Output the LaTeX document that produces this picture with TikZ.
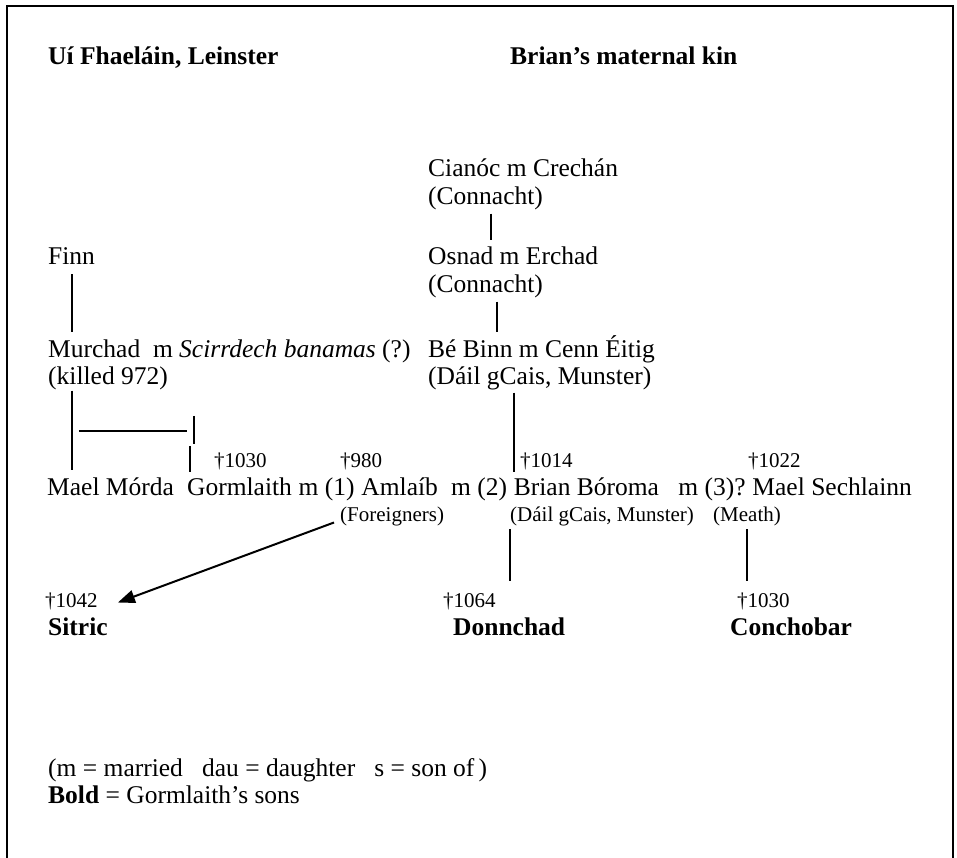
\documentclass[tikz,border=0pt]{standalone}
\usepackage{fontspec}
\setmainfont{Liberation Serif}
\usetikzlibrary{arrows.meta,positioning,calc}

\begin{document}
\begin{tikzpicture}[
  x=1pt,y=-1pt,
  txt/.style={inner sep=0pt,anchor=base west,font=\fontsize{25.5}{27}\selectfont,
              text height=17pt,text depth=6pt},
  hd/.style={txt,font=\fontsize{25.5}{27}\selectfont\bfseries},
  sml/.style={inner sep=0pt,anchor=base west,font=\fontsize{21}{23}\selectfont,
              text height=14pt,text depth=5pt},
  lnk/.style={line width=2pt,shorten <=3pt,shorten >=8pt},
  arr/.style={line width=2pt,-{Triangle[length=17pt,width=13pt]}}
]
\useasboundingbox (0,0) rectangle (957,858);
\draw[line width=1.6pt] (7,858) -- (7,6) -- (953,6) -- (953,858);

% headings
\node[hd] (leinster) at (48,65) {Uí Fhaeláin, Leinster};
\node[hd] (matkin) at (510,65) {Brian’s maternal kin};

% maternal kin
\node[txt] (cianoc) at (428,177) {Cianóc m Crechán};
\node[txt,below=4pt of cianoc.south west,anchor=north west] (cianocreg) {(Connacht)};
\node[txt] (osnad) at (428,265) {Osnad m Erchad};
\node[txt,below=4pt of osnad.south west,anchor=north west] (osnadreg) {(Connacht)};
\node[txt] (bebinn) at (428,357) {Bé Binn m Cenn Éitig};
\node[txt,below=4pt of bebinn.south west,anchor=north west] (bebinnreg) {(Dáil gCais, Munster)};

% Leinster line
\node[txt] (finn) at (48,265) {Finn};
\node[txt] (murchad) at (48,357) {Murchad\ \ m \textit{Scirrdech banamas} (?)};
\node[txt,below=4pt of murchad.south west,anchor=north west] (killed) {(killed 972)};

% main row
\node[txt] (maelmorda) at (47,495) {Mael Mórda};
\node[txt,base right=12.75pt of maelmorda] (gorm) {Gormlaith};
\node[txt,base right=6.4pt of gorm] (m1) {m (1)};
\node[txt,base right=6.4pt of m1] (amlaib) {Amlaíb};
\node[txt,base right=12.75pt of amlaib] (m2) {m (2)};
\node[txt,base right=6.4pt of m2] (brian) {Brian Bóroma};
\node[txt,base right=19pt of brian] (m3) {m (3)?};
\node[txt,base right=6.4pt of m3] (maelsech) {Mael Sechlainn};

% death dates
\node[sml] (d1030) at (214,467) {†1030};
\node[sml] (d980) at (340,467) {†980};
\node[sml] (d1014) at (520,467) {†1014};
\node[sml] (d1022) at (748,467) {†1022};

% origins
\node[sml] (foreign) at (340,521) {(Foreigners)};
\node[sml] (dailb) at (510,521) {(Dáil gCais, Munster)};
\node[sml] (meath) at (713,521) {(Meath)};

% sons
\node[sml] (d1042) at (45,607) {†1042};
\node[hd] (sitric) at (48,635) {Sitric};
\node[sml] (d1064) at (443,607) {†1064};
\node[hd] (donnchad) at (453,635) {Donnchad};
\node[sml] (d1030b) at (737,607) {†1030};
\node[hd] (conchobar) at (730,635) {Conchobar};

% legend
\node[txt] (legend) at (48,776) {(m = married\ \ \ dau = daughter\ \ \ s = son of\,)};
\node[txt] (boldkey) at (48,803) {\textbf{Bold} = Gormlaith’s sons};

% descent lines
\draw[lnk] ([xshift=63pt]cianocreg.south west) -- ([xshift=63pt]cianocreg.south west |- osnad.north);
\draw[lnk] ([xshift=69pt]osnadreg.south west) -- ([xshift=69pt]osnadreg.south west |- bebinn.north);
\draw[lnk,shorten <=2pt,shorten >=6pt] ([xshift=86pt]bebinnreg.south west) -- ([xshift=86pt]bebinnreg.south west |- brian.north);
\draw[lnk] (finn.south) -- (finn.south |- murchad.north);
\draw[lnk,shorten <=0pt] (finn.south |- killed.south) -- (finn.south |- maelmorda.north);
\draw[lnk,shorten <=0pt,shorten >=0pt] ($(gorm.north west)+(-108,-47)$) -- ($(gorm.north west)+(0,-47)$);
\draw[lnk,shorten <=0pt,shorten >=0pt] ($(gorm.north west)+(7.5,-62)$) -- ($(gorm.north west)+(7.5,-34)$);
\draw[lnk,shorten <=0pt,shorten >=0pt] ($(gorm.north west)+(3.5,-32)$) -- ($(gorm.north west)+(3.5,-6)$);
\draw[lnk,shorten <=3pt,shorten >=12pt] (dailb.south west) -- (dailb.south west |- d1064.north);
\draw[lnk,shorten <=3pt,shorten >=12pt] (meath.south) -- (meath.south |- d1030b.north);
\coordinate (sitrictip) at ($(d1042.east)+(20,0)$);
\draw[arr] ([shift={(-6pt,-6pt)}]foreign.west) -- (sitrictip);
\end{tikzpicture}
\end{document}
